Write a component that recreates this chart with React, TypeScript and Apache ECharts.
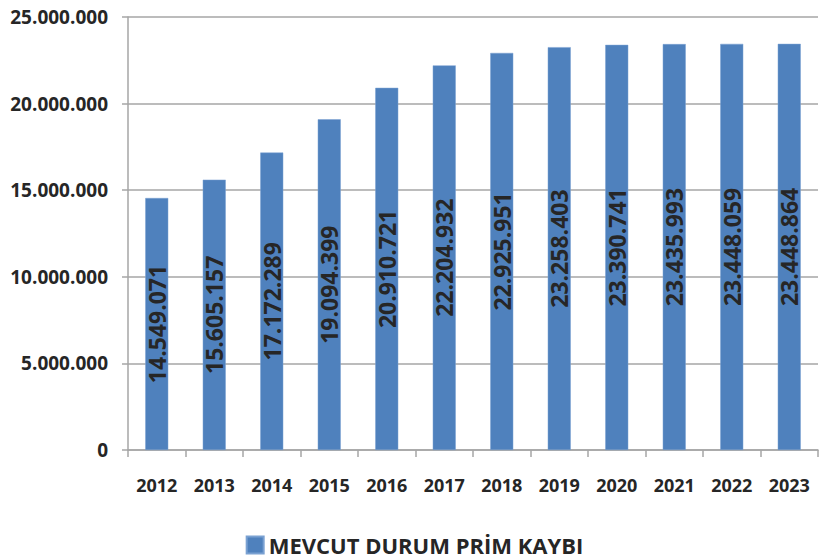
import React, { useEffect, useRef } from "react";
import * as echarts from "echarts";

const years = ["2012", "2013", "2014", "2015", "2016", "2017", "2018", "2019", "2020", "2021", "2022", "2023"];
const values = [14549071, 15605157, 17172289, 19094399, 20910721, 22204932, 22925951, 23258403, 23390741, 23435993, 23448059, 23448864];
const seriesName = "MEVCUT DURUM PRİM KAYBI";

const fmt = (v: number) => String(Math.round(v)).replace(/\B(?=(\d{3})+(?!\d))/g, ".");

const FONT = "'Open Sans', sans-serif";
const TEXT = "#262626";
const GRID = "#A6A6A6";

export default function App() {
  const ref = useRef<HTMLDivElement>(null);
  useEffect(() => {
    if (!ref.current) return;
    const chart = echarts.init(ref.current, undefined, { renderer: "svg" });
    chart.setOption({
      animation: false,
      backgroundColor: "#ffffff",
      grid: { left: 128, right: 11, top: 17, bottom: 110, containLabel: false },
      legend: {
        data: [seriesName],
        top: 529,
        left: "center",
        icon: "rect",
        itemWidth: 17,
        itemHeight: 17,
        itemGap: 6,
        textStyle: { fontFamily: FONT, fontSize: 22, fontWeight: "bold", color: TEXT },
      },
      xAxis: {
        type: "category",
        data: years,
        axisLine: { show: true, lineStyle: { color: GRID, width: 1.5 } },
        axisTick: { show: true, length: 7, lineStyle: { color: GRID, width: 1.5 } },
        axisLabel: { fontFamily: FONT, fontSize: 18, fontWeight: "bold", color: TEXT, margin: 26 },
      },
      yAxis: {
        type: "value",
        min: 0,
        max: 25000000,
        interval: 5000000,
        axisLine: { show: true, lineStyle: { color: GRID, width: 1.5 } },
        axisTick: { show: true, length: 6, lineStyle: { color: GRID, width: 1.5 } },
        splitLine: { show: true, lineStyle: { color: GRID, width: 1.5 } },
        axisLabel: {
          fontFamily: FONT,
          fontSize: 19,
          fontWeight: "bold",
          color: TEXT,
          margin: 20,
          formatter: (v: number) => fmt(v),
        },
      },
      series: [
        {
          name: seriesName,
          type: "bar",
          data: values,
          barWidth: 23,
          itemStyle: { color: "#4F81BD", borderColor: "#7AA1D2", borderWidth: 0.5 },
          label: {
            show: true,
            position: "inside",
            rotate: 90,
            fontFamily: FONT,
            fontSize: 23,
            fontWeight: "bold",
            color: TEXT,
            formatter: (p: any) => fmt(p.value),
          },
        },
      ],
    });
    return () => chart.dispose();
  }, []);
  return <div ref={ref} style={{ width: 829, height: 560, position: "absolute", left: 0, top: 0 }} />;
}
